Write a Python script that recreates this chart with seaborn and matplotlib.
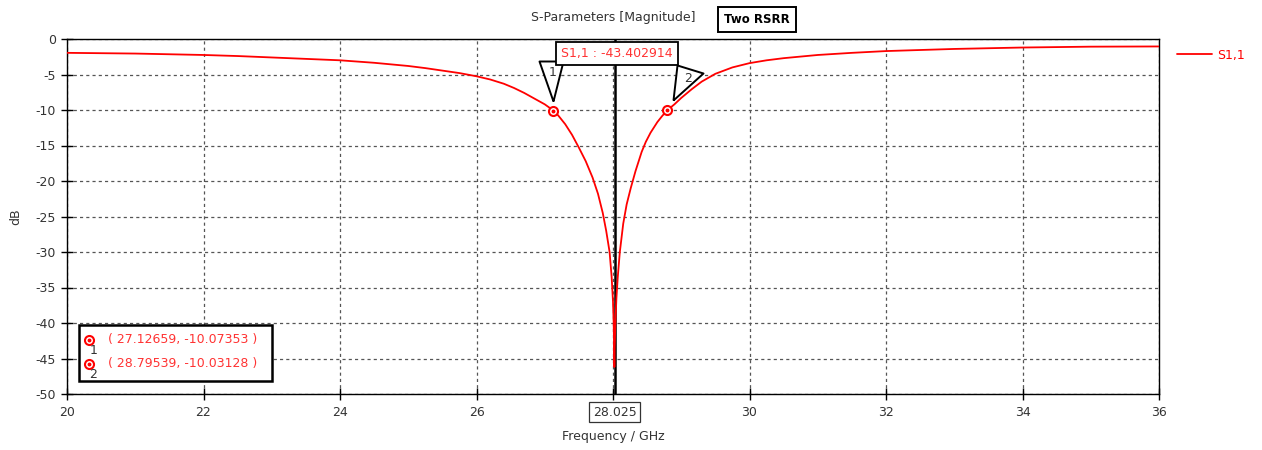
import matplotlib
matplotlib.use("Agg")
import matplotlib.pyplot as plt
from matplotlib.patches import Rectangle
import pandas as pd
import seaborn as sns

# Reflection coefficient S1,1 of the two-RSRR structure
freq_ghz = [20.0, 20.5, 21.0, 21.5, 22.0, 22.5, 23.0, 23.5, 24.0, 24.5, 25.0,
            25.25, 25.5, 25.75, 26.0, 26.2, 26.4, 26.55, 26.7, 26.85, 27.0,
            27.12659, 27.2, 27.3, 27.4, 27.5, 27.6, 27.7, 27.78, 27.85, 27.9,
            27.95, 27.98, 28.0, 28.01, 28.02, 28.025, 28.035, 28.05, 28.07,
            28.1, 28.15, 28.2, 28.26, 28.33, 28.42, 28.48, 28.55, 28.65, 28.72,
            28.79539, 28.9, 29.0, 29.15, 29.3, 29.5, 29.75, 30.0, 30.25,
            30.5, 31.0, 31.5, 32.0, 32.5, 33.0, 34.0, 35.0, 36.0]
s11_db = [-1.95, -2.0, -2.05, -2.15, -2.25, -2.4, -2.6, -2.8, -3.0, -3.35, -3.8,
          -4.1, -4.45, -4.8, -5.25, -5.7, -6.3, -6.9, -7.6, -8.4, -9.2,
          -10.07353, -10.8, -12.0, -13.5, -15.3, -17.2, -19.5, -21.8, -24.5, -27.0,
          -30.0, -33.5, -37.0, -40.0, -46.2, -43.402914, -40.0, -36.5, -33.5,
          -30.0, -26.0, -23.3, -21.0, -18.6, -15.9, -14.5, -13.2, -11.7, -10.85,
          -10.03128, -9.2, -8.3, -7.1, -6.0, -4.9, -4.0, -3.4, -3.0,
          -2.7, -2.25, -1.95, -1.7, -1.55, -1.4, -1.2, -1.08, -1.05]

marker_ids = ["1", "2"]
marker_freq = [27.12659, 28.79539]
marker_db = [-10.07353, -10.03128]
min_freq = 28.025
min_db = -43.402914

x_ticks = [20, 22, 24, 26, 28, 30, 32, 34, 36]
y_ticks = [0, -5, -10, -15, -20, -25, -30, -35, -40, -45, -50]
series_name = "S1,1"
title = "S-Parameters [Magnitude]"
badge = "Two RSRR"
x_label = "Frequency / GHz"
y_label = "dB"

sns.set_theme(style="white")
plt.rcParams.update({
    "font.family": ["DejaVu Sans"],
    "font.size": 9,
    "axes.unicode_minus": False,
    "axes.edgecolor": "black",
    "axes.linewidth": 1.0,
    "text.color": "#333333",
    "xtick.color": "black",
    "ytick.color": "black",
    "xtick.labelcolor": "#333333",
    "ytick.labelcolor": "#333333",
})

W, H = 1262, 450
fig = plt.figure(figsize=(W / 100, H / 100), dpi=100)
ax = fig.add_axes([67 / W, 1 - 394 / H, 1092 / W, 355 / H])

df = pd.DataFrame({"freq": freq_ghz, "s11": s11_db})
sns.lineplot(data=df, x="freq", y="s11", ax=ax, color="red", lw=1.3,
             estimator=None, sort=False, label=series_name, zorder=5)

ax.set_xlim(x_ticks[0], x_ticks[-1])
ax.set_ylim(y_ticks[-1], y_ticks[0])
ax.set_xticks(x_ticks)
# the frequency readout box sits where the 28 label would be
ax.set_xticklabels(["" if t == 28 else str(t) for t in x_ticks])
ax.set_yticks(y_ticks)
ax.tick_params(axis="both", direction="inout", length=8, width=1,
               labelsize=9, bottom=True, left=True)
ax.tick_params(axis="x", pad=5)
ax.tick_params(axis="y", pad=4)
ax.grid(True, color="#555555", lw=0.9, linestyle=(0, (2.5, 2.5)))
ax.set_axisbelow(True)

ax.set_xlabel(x_label, fontsize=9, color="#333333")
ax.set_ylabel(y_label, fontsize=9, color="#333333")
ax.xaxis.set_label_coords(0.5, -(430 - 394) / 355)
ax.yaxis.set_label_coords(-(67 - 22) / 1092, 0.5)

# Series legend to the right of the plot
ax.legend(loc="center left", bbox_to_anchor=(1177 / W, 1 - 55 / H),
          bbox_transform=fig.transFigure, frameon=False, borderpad=0,
          borderaxespad=0, handlelength=2.8, handletextpad=0.45,
          fontsize=9, labelcolor="red")

# Minimum marker: vertical line, value box and frequency box
ax.axvline(min_freq, color="black", lw=1.8, zorder=4)
ax.annotate(f"{series_name} : {min_db:.6f}", xy=(min_freq, 1),
            xycoords=("data", "axes fraction"), xytext=(1.6, -10.5),
            textcoords="offset points", ha="center", va="center",
            color="#ff3333", fontsize=9, annotation_clip=False, zorder=9,
            bbox=dict(boxstyle="square,pad=0.4", fc="white", ec="black", lw=1.3))
ax.annotate(f"{min_freq:.3f}", xy=(min_freq, 0),
            xycoords=("data", "axes fraction"), xytext=(0, -13),
            textcoords="offset points", ha="center", va="center",
            color="#333333", fontsize=9, annotation_clip=False, zorder=9,
            bbox=dict(boxstyle="square,pad=0.3", fc="white", ec="#333333", lw=0.9))

# Flag-shaped pointers above the -10 dB markers (marker paths anchored at the point)
flag_paths = [
    [(0, 10), (-14, 50), (10, 50), (0, 10)],
    [(6, 10), (10, 45), (36, 37), (6, 10)],
]
flag_sizes = [2 * 50 * 0.72, 2 * 45 * 0.72]
num_offsets = [(-0.7, 27.5), (15, 23)]
for f, d, path, ms, off, mid in zip(marker_freq, marker_db, flag_paths,
                                     flag_sizes, num_offsets, marker_ids):
    ax.plot([f], [d], marker=path, ms=ms, mfc="white", mec="black", mew=1.4,
            ls="none", zorder=6)
    ax.annotate(mid, xy=(f, d), xytext=off, textcoords="offset points",
                ha="center", va="center", fontsize=9, color="#333333", zorder=7)

ax.plot(marker_freq, marker_db, "o", ms=6.5, mfc="white", mec="red", mew=1.5,
        ls="none", zorder=8)
ax.plot(marker_freq, marker_db, "o", ms=1.8, color="red", ls="none", zorder=8)

# Marker readout table in the lower-left corner
ax.add_patch(Rectangle((12 / 1092, 13 / 355), 193 / 1092, 56 / 355,
                       transform=ax.transAxes, fc="white", ec="black", lw=1.8,
                       zorder=10))
row_y = [(394 - 340) / 355, (394 - 364) / 355]
for mid, f, d, y in zip(marker_ids, marker_freq, marker_db, row_y):
    ax.plot([22 / 1092], [y], "o", ms=6.5, mfc="white", mec="red", mew=1.5,
            transform=ax.transAxes, clip_on=False, zorder=11)
    ax.plot([22 / 1092], [y], "o", ms=1.8, color="red",
            transform=ax.transAxes, clip_on=False, zorder=11)
    ax.text(26.5 / 1092, y - 11 / 355, mid, transform=ax.transAxes,
            ha="center", va="center", fontsize=9, color="#333333", zorder=11)
    ax.text(41 / 1092, y, f"( {f:.5f}, {d:.5f} )", transform=ax.transAxes,
            ha="left", va="center", fontsize=9, color="#ff3333", zorder=11)

# Title and badge
fig.text(613 / W, 1 - 17 / H, title, ha="center", va="center", fontsize=9,
         color="#333333")
fig.text(757 / W, 1 - 19.5 / H, badge, ha="center", va="center", fontsize=8.5,
         fontweight="bold", color="black",
         bbox=dict(boxstyle="square,pad=0.55", fc="white", ec="black", lw=1.4))

fig.savefig("out.png", dpi=100, facecolor="white")
